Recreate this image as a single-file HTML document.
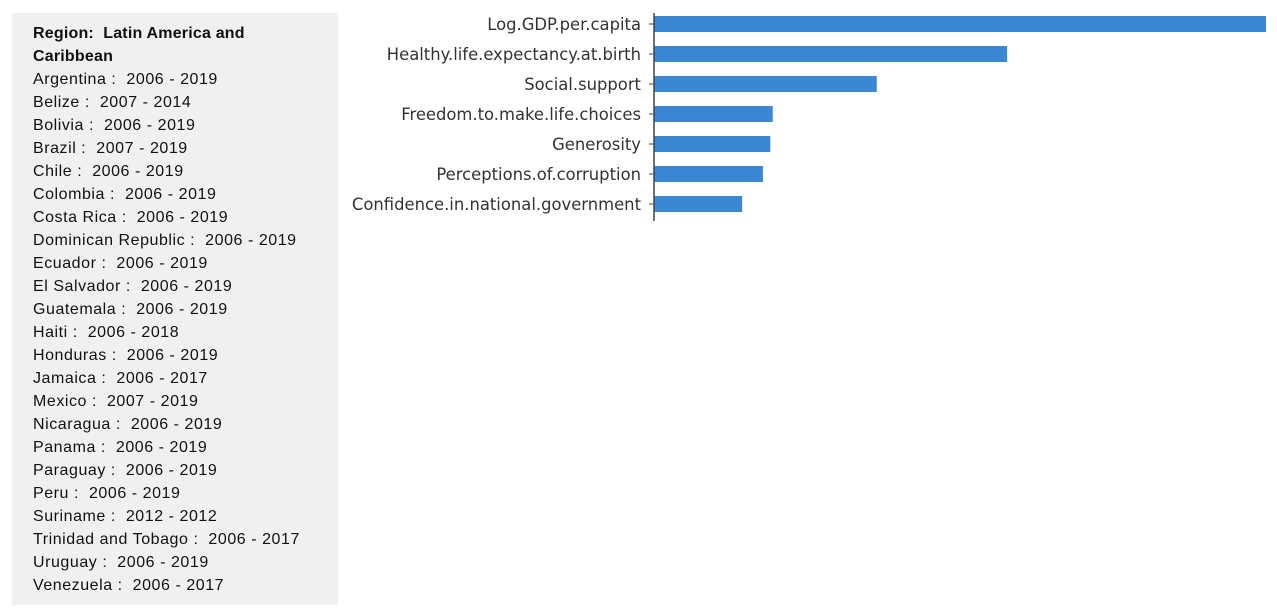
<!DOCTYPE html>
<html><head><meta charset="utf-8"><style>
body{margin:0;width:1277px;height:614px;background:#fff;position:relative;overflow:hidden}
#panel{position:absolute;left:12px;top:13px;width:326px;height:592px;background:#f0f0f2;font-family:"Liberation Sans",sans-serif;font-size:16px;letter-spacing:0.55px;color:#111}
#panel div{position:absolute;left:21px;white-space:pre;line-height:23px}
</style></head><body>
<div id="panel"></div>
<svg id="chart" width="1277" height="614" style="position:absolute;left:0;top:0"></svg>
<script>
const lines=["Region:  Latin America and","Caribbean","Argentina :  2006 - 2019","Belize :  2007 - 2014","Bolivia :  2006 - 2019","Brazil :  2007 - 2019","Chile :  2006 - 2019","Colombia :  2006 - 2019","Costa Rica :  2006 - 2019","Dominican Republic :  2006 - 2019","Ecuador :  2006 - 2019","El Salvador :  2006 - 2019","Guatemala :  2006 - 2019","Haiti :  2006 - 2018","Honduras :  2006 - 2019","Jamaica :  2006 - 2017","Mexico :  2007 - 2019","Nicaragua :  2006 - 2019","Panama :  2006 - 2019","Paraguay :  2006 - 2019","Peru :  2006 - 2019","Suriname :  2012 - 2012","Trinidad and Tobago :  2006 - 2017","Uruguay :  2006 - 2019","Venezuela :  2006 - 2017"];
const categories=["Log.GDP.per.capita","Healthy.life.expectancy.at.birth","Social.support","Freedom.to.make.life.choices","Generosity","Perceptions.of.corruption","Confidence.in.national.government"];
const values=[1.0,0.577,0.364,0.194,0.190,0.178,0.144];
const panel=document.getElementById('panel');
lines.forEach((t,i)=>{const d=document.createElement('div');


d.style.top=(9+i*23)+'px';if(i<2){d.style.fontWeight='bold';d.style.letterSpacing='0.2px';}d.textContent=t;panel.appendChild(d);});
const svg=document.getElementById('chart'),NS='http://www.w3.org/2000/svg';
const x0=654,xw=612,y0=24,step=30,bh=16;
const xs=v=>x0+v*xw, ys=i=>y0+i*step;
function el(tag,attrs){const e=document.createElementNS(NS,tag);for(const k in attrs)e.setAttribute(k,attrs[k]);svg.appendChild(e);return e;}
categories.forEach((c,i)=>{
 const r=el('rect',{x:x0,y:ys(i)-bh/2,width:xs(values[i])-x0,height:bh,fill:'#3a87d4'});
 
 
 el('line',{x1:x0-5,x2:x0,y1:ys(i),y2:ys(i),stroke:'#444','stroke-width':1});
 const t=el('text',{x:x0-13,y:ys(i)+6,'text-anchor':'end','font-family':'DejaVu Sans, sans-serif','font-size':'16.4px',fill:'#333'});
 t.textContent=c;
 
 
});
const ax=el('line',{x1:x0,x2:x0,y1:13,y2:221,stroke:'#444','stroke-width':1.5});


</script>
</body></html>
